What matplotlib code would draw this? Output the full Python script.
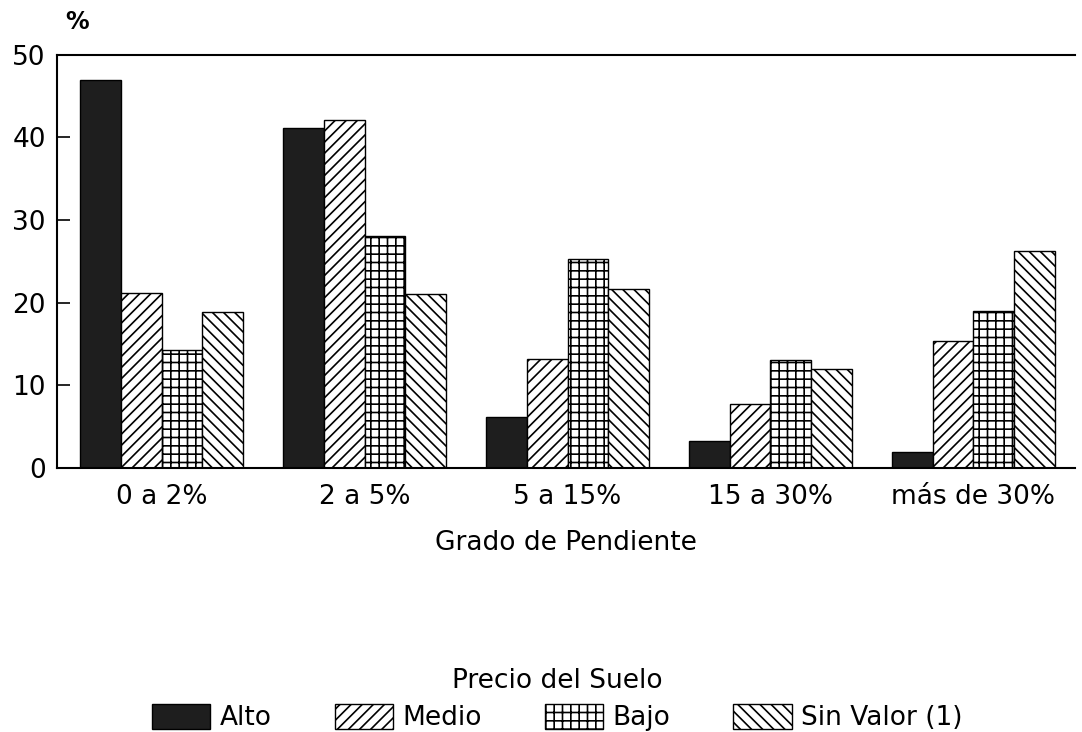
import numpy as np
import matplotlib.pyplot as plt
from matplotlib.patches import Patch

plt.rcParams["font.family"] = "DejaVu Sans"
plt.rcParams["hatch.linewidth"] = 1.2

categories = ["0 a 2%", "2 a 5%", "5 a 15%", "15 a 30%", "más de 30%"]
series_names = ["Alto", "Medio", "Bajo", "Sin Valor (1)"]
alto = [46.9, 41.2, 6.2, 3.3, 1.9]
medio = [21.2, 42.1, 13.2, 7.7, 15.4]
bajo = [14.3, 28.1, 25.3, 13.0, 19.0]
sin_valor = [18.9, 21.1, 21.7, 12.0, 26.3]
yticks = [0, 10, 20, 30, 40, 50]

values = [alto, medio, bajo, sin_valor]
colors = ["#1e1e1e", "white", "white", "white"]
hatches = [None, "///", "++", "\\\\\\"]

fig = plt.figure(figsize=(10.82, 7.32), dpi=100)
ax = fig.add_axes([0.0527, 0.361, 0.9408, 0.564])

x = np.arange(len(categories))
w = 0.2
for i, (vals, c, h) in enumerate(zip(values, colors, hatches)):
    ax.bar(x - 1.5 * w + i * w, vals, width=w, color=c, hatch=h,
           edgecolor="black", linewidth=1.0)

ax.set_xlim(-0.515, 4.5)
ax.set_ylim(0, 50)
ax.set_yticks(yticks)
ax.set_xticks(x)
ax.set_xticklabels(categories, fontsize=19)
ax.tick_params(axis="y", direction="in", length=9, width=1.2, labelsize=19, pad=8)
ax.tick_params(axis="x", length=0, pad=12)
ax.spines["right"].set_visible(False)
for s in ["left", "top", "bottom"]:
    ax.spines[s].set_linewidth(1.5)

ax.set_xlabel("Grado de Pendiente", fontsize=19, labelpad=14)
ax.text(0.008, 1.05, "%", transform=ax.transAxes, fontsize=17,
        fontweight="bold", ha="left", va="bottom")

handles = [Patch(facecolor=c, hatch=h, edgecolor="black", label=n)
           for c, h, n in zip(colors, hatches, series_names)]
leg = fig.legend(handles=handles, loc="center", bbox_to_anchor=(0.515, 0.044),
                 ncol=4, frameon=False, fontsize=19, title="Precio del Suelo",
                 title_fontsize=19, handlelength=2.2, handleheight=1.1,
                 handletextpad=0.35, columnspacing=2.4)
leg._legend_box.sep = 7

fig.savefig("out.png", dpi=100)
